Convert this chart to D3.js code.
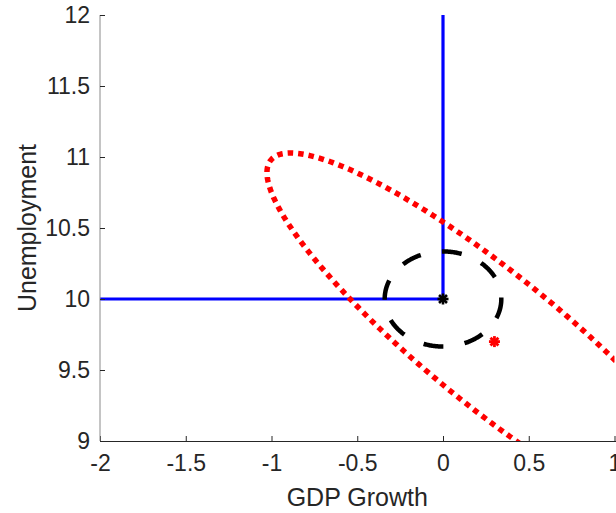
<!DOCTYPE html>
<html>
<head>
<meta charset="utf-8">
<script src="https://cdn.jsdelivr.net/npm/d3@7"></script>
<style>
  html, body { margin: 0; padding: 0; background: #fff; }
  svg { display: block; }
  text { font-family: "Liberation Sans", Arial, Helvetica, sans-serif; fill: #262626; }
</style>
</head>
<body>
<svg id="chart" width="616" height="513"></svg>
<script>
// ---- data ----
const xTicks = [-2, -1.5, -1, -0.5, 0, 0.5, 1];
const yTicks = [9, 9.5, 10, 10.5, 11, 11.5, 12];
const xDomain = [-2, 1];
const yDomain = [9, 12];
const xLabel = "GDP Growth";
const yLabel = "Unemployment";

// blue reference lines (x, y)
const blueHorizontal = [[-2, 10], [0, 10]];
const blueVertical = [[0, 10], [0, 12]];

// black dashed ellipse: center and radii (data units)
const blackCenter = [0, 10];
const blackRadii = [0.34, 0.335];

// red dotted ellipse: center and semi-axis vectors (data units)
const redCenter = [0.3, 9.7];
const redAxisMajor = [1.304, -1.278];
const redAxisMinor = [0.243, 0.361];

// markers
const blackMarker = [0, 10];
const redMarker = [0.3, 9.7];

// ---- layout ----
const svg = d3.select("#chart");
const mLeft = 100, mRight = 614.5, mTop = 15, mBottom = 441;
const x = d3.scaleLinear().domain(xDomain).range([mLeft, mRight]);
const y = d3.scaleLinear().domain(yDomain).range([mBottom, mTop]);

svg.append("defs").append("clipPath").attr("id", "plotclip")
  .append("rect").attr("x", mLeft).attr("y", mTop).attr("width", mRight - mLeft).attr("height", mBottom - mTop);

const line = d3.line().x(d => x(d[0])).y(d => y(d[1]));
const plot = svg.append("g").attr("clip-path", "url(#plotclip)");

// blue lines
plot.append("path").datum(blueHorizontal).attr("d", line)
  .attr("fill", "none").attr("stroke", "#0000ff").attr("stroke-width", 3.2);
plot.append("path").datum(blueVertical).attr("d", line)
  .attr("fill", "none").attr("stroke", "#0000ff").attr("stroke-width", 3.2);

// ellipse outlines
const N = 400;
const angles = d3.range(N + 1).map(i => 2 * Math.PI * i / N);
const blackPts = angles.map(t => [blackCenter[0] + blackRadii[0] * Math.cos(t), blackCenter[1] - blackRadii[1] * Math.sin(t)]);
const redPts = angles.map(t => [
  redCenter[0] + Math.cos(t) * redAxisMajor[0] + Math.sin(t) * redAxisMinor[0],
  redCenter[1] + Math.cos(t) * redAxisMajor[1] + Math.sin(t) * redAxisMinor[1]
]);

plot.append("path").datum(blackPts).attr("d", line)
  .attr("fill", "none").attr("stroke", "#000").attr("stroke-width", 4.5)
  .attr("stroke-dasharray", "20,21.5");

plot.append("path").datum(redPts).attr("d", line)
  .attr("fill", "none").attr("stroke", "#ff0000").attr("stroke-width", 5.5)
  .attr("stroke-dasharray", "5.5,5");

// star markers
function star(g, p, color, r, w) {
  const cx = x(p[0]), cy = y(p[1]);
  const segs = [[-r, 0, r, 0], [0, -r, 0, r], [-r * 0.72, -r * 0.72, r * 0.72, r * 0.72], [-r * 0.72, r * 0.72, r * 0.72, -r * 0.72]];
  segs.forEach(s => g.append("line")
    .attr("x1", cx + s[0]).attr("y1", cy + s[1]).attr("x2", cx + s[2]).attr("y2", cy + s[3])
    .attr("stroke", color).attr("stroke-width", w));
}
star(plot, blackMarker, "#000", 5.5, 2.6);
star(plot, redMarker, "#ff0000", 5.5, 2.8);

// ---- axes ----
const xAxis = d3.axisBottom(x).tickValues(xTicks).tickSize(-5).tickPadding(14)
  .tickFormat(d => String(d));
const gx = svg.append("g").attr("transform", `translate(0,${mBottom})`).call(xAxis);
gx.select(".domain").attr("stroke", "#262626").attr("d", `M${mLeft},0.5H${mRight + 5}`);
gx.selectAll(".tick line").attr("stroke", "#262626");
gx.selectAll(".tick text").attr("font-size", 23).attr("fill", "#262626")
  .attr("font-family", '"Liberation Sans", Arial, sans-serif');

const yAxis = d3.axisLeft(y).tickValues(yTicks).tickSize(-5).tickPadding(10)
  .tickFormat(d => String(d));
const gy = svg.append("g").attr("transform", `translate(${mLeft},0)`).call(yAxis);
gy.select(".domain").attr("stroke", "#8a8a8a").attr("d", `M0,${mTop}V${mBottom}`);
gy.selectAll(".tick line").attr("stroke", "#262626");
gy.selectAll(".tick text").attr("font-size", 23).attr("fill", "#262626")
  .attr("font-family", '"Liberation Sans", Arial, sans-serif');

svg.append("text").attr("x", (mLeft + mRight) / 2).attr("y", 506)
  .attr("text-anchor", "middle").attr("font-size", 25).text(xLabel);
svg.append("text").attr("transform", `translate(36,${(mTop + mBottom) / 2}) rotate(-90)`)
  .attr("text-anchor", "middle").attr("font-size", 25).text(yLabel);
</script>
</body>
</html>
